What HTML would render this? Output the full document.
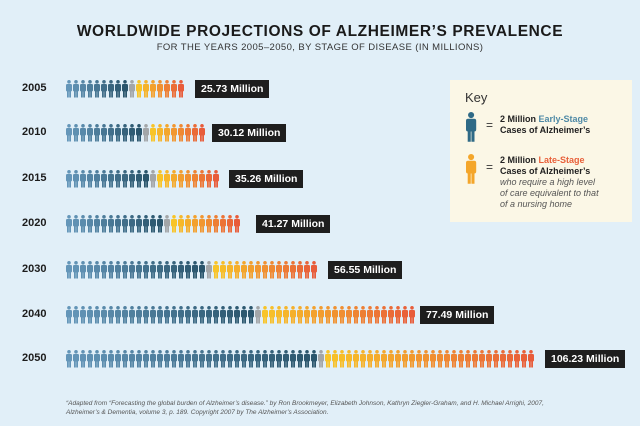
<!DOCTYPE html>
<html><head><meta charset="utf-8"><style>
body{margin:0;width:640px;height:426px;background:#e1eff8;font-family:"Liberation Sans",sans-serif;position:relative;overflow:hidden}
.t{position:absolute;left:0;width:640px;text-align:center}
.yr{position:absolute;left:22px;font-weight:bold;font-size:11px;color:#1c1c1c}
.bx{position:absolute;background:#1e1e1e;color:#fff;font-weight:bold;font-size:10.5px;height:18px;line-height:18px;padding:0 6px}
.key{position:absolute;left:450px;top:80px;width:182px;height:142px;background:#fbf7e6}
.kt{position:absolute;font-size:9px;font-weight:bold;color:#222;line-height:11px}
</style></head><body>
<div class="t" style="top:23px;font-size:15.5px;font-weight:bold;letter-spacing:0.6px;color:#1a1a1a">WORLDWIDE PROJECTIONS OF ALZHEIMER’S PREVALENCE</div>
<div class="t" style="top:42px;font-size:9.5px;letter-spacing:0.4px;color:#333">FOR THE YEARS 2005–2050, BY STAGE OF DISEASE (IN MILLIONS)</div>
<div class="key">
<div style="position:absolute;left:15px;top:10px;font-size:13px;color:#333">Key</div>
<div style="position:absolute;left:36px;top:38px;font-size:12px;color:#333">=</div>
<div style="position:absolute;left:36px;top:80px;font-size:12px;color:#333">=</div>
<div class="kt" style="left:50px;top:34px">2 Million <span style="color:#4f8aa6">Early-Stage</span><br>Cases of Alzheimer’s</div>
<div class="kt" style="left:50px;top:75px">2 Million <span style="color:#e8603a">Late-Stage</span><br>Cases of Alzheimer’s<br><span style="font-weight:normal;font-style:italic;color:#555">who require a high level<br>of care equivalent to that<br>of a nursing home</span></div>
</div>
<svg id="s" width="640" height="426" style="position:absolute;left:0;top:0"></svg>
<div style="position:absolute;left:66px;top:400px;font-size:6.5px;font-style:italic;color:#555;line-height:8.5px">“Adapted from “Forecasting the global burden of Alzheimer’s disease.” by Ron Brookmeyer, Elizabeth Johnson, Kathryn Ziegler-Graham, and H. Michael Arrighi, 2007,<br>Alzheimer’s &amp; Dementia, volume 3, p. 189. Copyright 2007 by The Alzheimer’s Association.</div>
<div id="rows"></div>
<script>
var rows=[["2005",89,126,186,195,"25.73 Million"],["2010",133,140,205,212,"30.12 Million"],["2015",179,150,222,229,"35.26 Million"],["2020",224,166,247,256,"41.27 Million"],["2030",270,203,318,328,"56.55 Million"],["2040",315,253,413,420,"77.49 Million"],["2050",359,320,536,545,"106.23 Million"]];
function fig(x,y,c,s){s=s||1;return '<g fill="'+c+'" transform="translate('+x+','+y+') scale('+s+')"><circle cx="3" cy="1.8" r="1.8"/><rect x="0" y="4" width="6" height="7.5" rx="1.2"/><rect x="1" y="10" width="1.8" height="7.5"/><rect x="3.2" y="10" width="1.8" height="7.5"/></g>';}
function mix(a,b,t){return 'rgb('+a.map(function(v,i){return Math.round(v+(b[i]-v)*t)}).join(',')+')';}
var h='',html='';
rows.forEach(function(r){
 var y=r[1]-9,x=66,sp=7,nb=Math.round((r[2]-66)/sp),no=Math.round((r[3]-r[2]-8)/sp);
 for(var i=0;i<nb;i++){h+=fig(x,y,mix([100,150,185],[42,85,108],i/Math.max(nb-1,1)));x+=sp;}
 h+=fig(x,y,'#a3a6a8');x+=sp;
 for(var j=0;j<no;j++){h+=fig(x,y,mix([248,196,40],[232,92,58],j/Math.max(no-1,1)));x+=sp;}
 html+='<div class="yr" style="top:'+(r[1]-7)+'px">'+r[0]+'</div><div class="bx" style="left:'+r[4]+'px;top:'+(r[1]-9)+'px">'+r[5]+'</div>';
});
h+=fig(466,112,'#2f6a86',1.7)+fig(466,154,'#f4a62a',1.7);
document.getElementById('s').innerHTML=h;
document.getElementById('rows').innerHTML=html;
</script>
</body></html>
